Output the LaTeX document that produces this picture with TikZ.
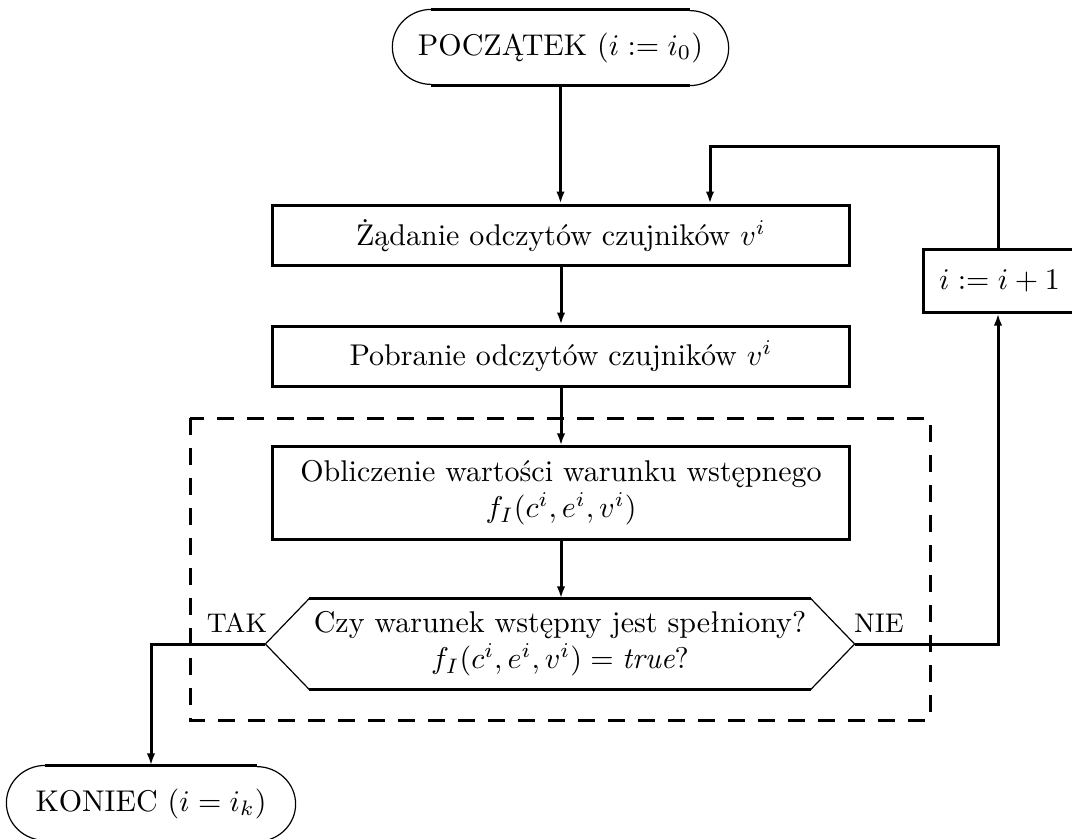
\documentclass[tikz,border=0pt]{standalone}
\usepackage{fontspec}
\usetikzlibrary{calc,arrows.meta}
\begin{document}
\begin{tikzpicture}[x=0.3333pt,y=-0.3333pt,
  box/.style={draw, line width=1pt, minimum width=192pt, inner sep=0pt, align=center},
  arr/.style={line width=1pt, -{Latex[length=4pt,width=2.8pt]}},
  ln/.style={line width=1pt},
  thinln/.style={line width=0.4pt},
  term/.style={inner sep=0pt, minimum height=25pt},
  lab/.style={font=\small, inner sep=0pt}]
\useasboundingbox (0,0) rectangle (1072,838);
% terminals
\node[term, minimum width=111.7pt] (start) at (560.5,47.5) {POCZĄTEK ($i := i_0$)};
\node[term, minimum width=96pt] (end) at (151,803.5) {KONIEC ($i = i_k$)};
\foreach \t in {start,end}{
  \draw[ln] ($(\t.north west)+(39,0)$) -- ($(\t.north east)+(-39,0)$);
  \draw[ln] ($(\t.south west)+(39,0)$) -- ($(\t.south east)+(-39,0)$);
  \draw[thinln] ($(\t.north west)+(39,0)$) arc[start angle=90,end angle=270,x radius=13pt,y radius=12.5pt];
  \draw[thinln] ($(\t.south east)+(-39,0)$) arc[start angle=-90,end angle=90,x radius=13pt,y radius=12.5pt];
}
% boxes
\node[box, minimum height=20.3pt] (b1) at (561,235.5) {Żądanie odczytów czujników $v^i$};
\node[box, minimum height=20.3pt] (b2) at (561,356.5) {Pobranie odczytów czujników $v^i$};
\node[box, minimum height=30.7pt] (b3) at (561,493) {Obliczenie wartości warunku wstępnego\\ $f_I(c^i,e^i,v^i)$};
\node[box, minimum width=51pt, minimum height=20.7pt] (b4) at (999.5,281) {$i := i+1$};
% decision
\node[inner sep=0pt, minimum width=196pt, minimum height=30pt, align=center] (dec) at (560,644)
  {Czy warunek wstępny jest spełniony?\\ $f_I(c^i,e^i,v^i) = \mathit{true}$?};
\coordinate (dnw) at ($(dec.north west)+(44,0)$);
\coordinate (dne) at ($(dec.north east)+(-44,0)$);
\coordinate (dsw) at ($(dec.south west)+(44,0)$);
\coordinate (dse) at ($(dec.south east)+(-44,0)$);
\draw[ln] (dnw) -- (dne);
\draw[ln] (dsw) -- (dse);
\draw[thinln] (dnw) -- (dec.west) -- (dsw);
\draw[thinln] (dne) -- (dec.east) -- (dse);
% dashed frame
\draw[line width=1pt, dash pattern=on 5.5pt off 4.5pt] (190,418) rectangle (930,720);
% labels
\node[lab] (tak) at (237,623) {TAK};
\node[lab] (nie) at (879,623) {NIE};
% connectors
\coordinate (fx) at (998,0);
\draw[arr] (start.south) -- (start.south |- b1.north);
\draw[arr] (b1) -- (b2);
\draw[arr] (b2) -- (b3);
\draw[arr] (b3.south) -- (b3.south |- dec.north);
\draw[arr] (dec.west) -| (end.north);
\draw[arr] (dec.east) -| (fx |- b4.south);
\coordinate (fb) at (710,146);
\draw[arr] (fx |- b4.north) |- (fb) -- (fb |- b1.north);
\end{tikzpicture}
\end{document}
